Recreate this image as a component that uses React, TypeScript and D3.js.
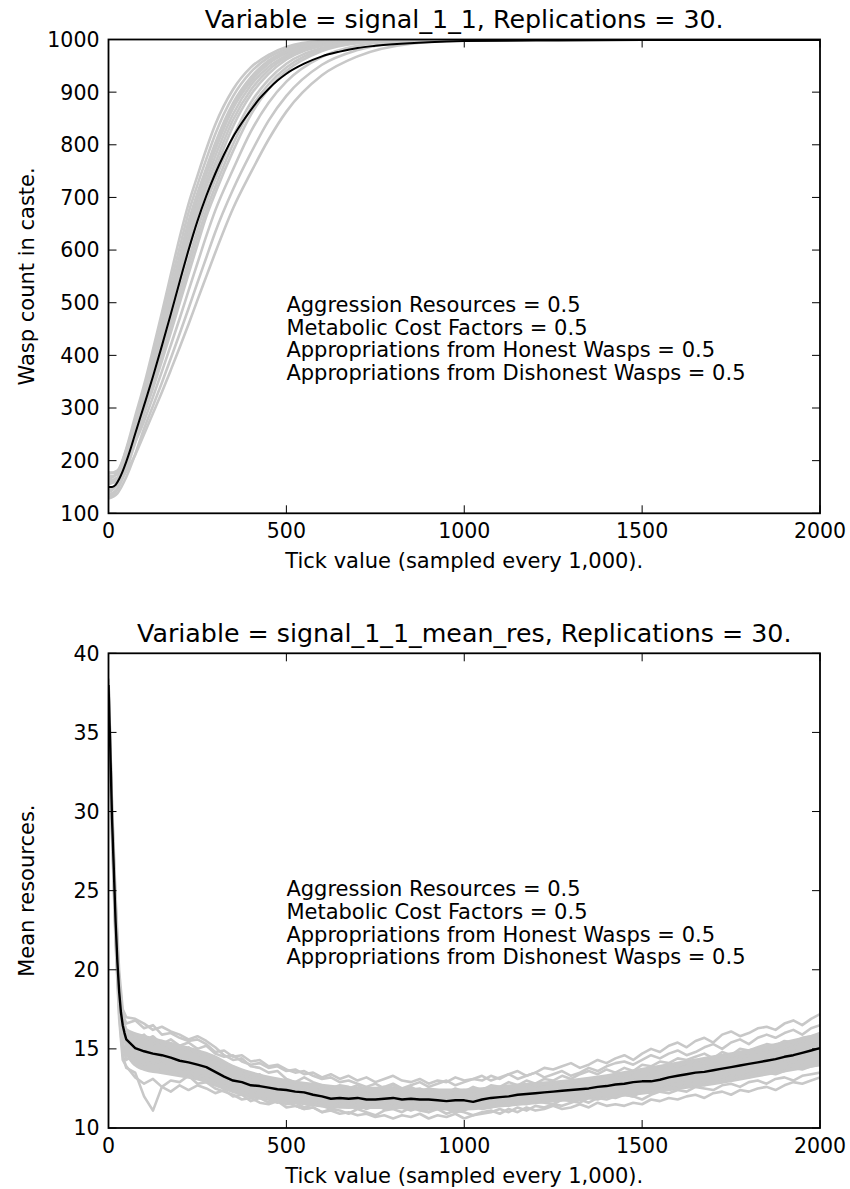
import React from 'react';
import * as d3 from 'd3';

const W = 850;
const H = 1189;
const FONT = "'DejaVu Sans', sans-serif";

// ---------------- Top panel data ----------------
const TOP_TITLE = 'Variable = signal_1_1, Replications = 30.';
const TOP_YLABEL = 'Wasp count in caste.';
const TOP_YTICKS = [100, 200, 300, 400, 500, 600, 700, 800, 900, 1000];
const TOP_RUN_TICKS = [0, 25, 50, 75, 100, 125, 150, 175, 200, 225, 250, 275, 300, 350, 400, 450, 500, 600, 700, 850, 1000, 1300, 2000];
const TOP_RUNS = [
  [165, 176, 223, 284, 344, 411, 481, 553, 624, 688, 741, 792, 838, 905, 947, 971, 986, 997, 999, 1000, 1000, 1000, 1000],
  [140, 156, 207, 271, 335, 399, 467, 537, 605, 671, 724, 773, 820, 892, 938, 966, 982, 996, 999, 1000, 1000, 1000, 1000],
  [175, 181, 221, 274, 327, 389, 454, 521, 588, 654, 708, 756, 803, 879, 928, 960, 978, 995, 998, 1000, 1000, 1000, 1000],
  [155, 165, 208, 264, 321, 381, 445, 510, 576, 640, 696, 744, 790, 869, 920, 954, 974, 993, 998, 1000, 1000, 1000, 1000],
  [130, 146, 193, 254, 316, 375, 436, 500, 564, 627, 684, 732, 778, 858, 913, 948, 970, 992, 998, 999, 1000, 1000, 1000],
  [160, 168, 206, 258, 311, 368, 427, 489, 552, 614, 672, 721, 765, 847, 904, 942, 966, 990, 997, 999, 1000, 1000, 1000],
  [145, 156, 196, 250, 305, 360, 418, 478, 540, 600, 660, 708, 752, 835, 895, 935, 962, 988, 997, 999, 1000, 1000, 1000],
  [170, 174, 205, 250, 298, 350, 406, 463, 523, 581, 639, 690, 734, 815, 880, 924, 954, 984, 996, 999, 1000, 1000, 1000],
  [135, 146, 183, 234, 288, 337, 389, 443, 499, 555, 610, 664, 708, 788, 857, 906, 940, 978, 993, 999, 1000, 1000, 1000],
  [178, 177, 199, 235, 275, 321, 369, 419, 470, 523, 575, 627, 675, 753, 825, 880, 920, 967, 988, 998, 999, 1000, 1000],
  [128, 138, 169, 212, 261, 304, 348, 394, 441, 489, 538, 586, 634, 715, 784, 846, 893, 952, 980, 996, 999, 1000, 1000],
  [158, 159, 180, 211, 250, 290, 330, 372, 415, 459, 505, 550, 595, 679, 747, 810, 863, 932, 968, 992, 998, 1000, 1000],
  [142, 156, 203, 264, 325, 386, 450, 517, 583, 649, 703, 752, 798, 875, 925, 957, 976, 994, 998, 1000, 1000, 1000, 1000],
  [162, 167, 199, 244, 292, 344, 397, 453, 510, 568, 624, 676, 720, 801, 869, 915, 947, 981, 995, 999, 1000, 1000, 1000],
];
const TOP_MEAN_TICKS = [0, 10, 20, 30, 40, 50, 60, 75, 100, 125, 150, 175, 200, 225, 250, 275, 300, 325, 350, 375, 400, 425, 450, 475, 500, 550, 600, 650, 700, 750, 800, 900, 1000, 1200, 1500, 2000];
const TOP_MEAN = [150, 150, 154, 165, 180, 198, 218, 251, 305, 360, 418, 478, 540, 600, 655, 703, 745, 782, 815, 842, 866, 888, 906, 922, 935, 954, 968, 977, 984, 988, 991, 995, 997, 998, 999, 999];

// ---------------- Bottom panel data ----------------
const BOT_TITLE = 'Variable = signal_1_1_mean_res, Replications = 30.';
const BOT_YLABEL = 'Mean resources.';
const BOT_YTICKS = [10, 15, 20, 25, 30, 35, 40];
const BOT_RUN_TICKS = [0, 10, 20, 30, 40, ...d3.range(50, 2001, 25)];
const BOT_RUNS = [
  [38.2, 30.4, 24.6, 19.9, 17.5,
    17.0, 16.9, 16.6, 16.2, 16.4, 16.1, 15.9, 15.6,
    15.8, 15.5, 15.1, 14.6, 14.3, 14.4, 13.9, 13.8,
    13.5, 13.6, 13.1, 12.9, 13.2, 12.9, 12.7, 12.5,
    12.7, 12.6, 12.4, 12.3, 12.5, 12.6, 12.3, 12.2,
    12.4, 12.5, 12.2, 12.0, 12.3, 12.2, 12.4, 12.1,
    12.3, 12.4, 12.5, 12.3, 12.6, 12.7, 12.5, 12.6,
    12.8, 12.7, 12.9, 13.0, 12.8, 13.1, 13.2, 13.0,
    13.3, 13.4, 13.2, 13.5, 13.6, 13.4, 13.8, 13.9,
    14.0, 13.9, 14.2, 14.3, 14.1, 14.4, 14.6, 14.5,
    14.8, 14.9, 15.1, 15.0, 15.3, 15.4, 15.6],
  [37.6, 28.6, 22.0, 17.2, 14.6,
    13.8, 13.5, 12.0, 11.1, 12.6, 13.0, 12.9, 13.3,
    12.8, 12.9, 12.5, 12.3, 12.1, 11.8, 11.9, 11.6,
    11.5, 11.7, 11.3, 11.4, 11.2, 11.3, 11.0, 11.2,
    11.1, 10.9, 11.2, 11.0, 10.8, 11.1, 11.2, 11.0,
    11.3, 11.1, 11.0, 11.3, 11.2, 11.0, 11.1, 11.4,
    11.2, 11.3, 11.5, 11.4, 11.6, 11.5, 11.7, 11.6,
    11.5, 11.8, 11.7, 11.6, 11.9, 11.8, 12.0, 11.9,
    12.1, 12.0, 11.8, 12.1, 12.3, 12.2, 12.4, 12.3,
    12.6, 12.5, 12.4, 12.7, 12.8, 12.6, 12.9, 13.0,
    12.8, 13.1, 13.2, 13.0, 13.3, 13.4, 13.5],
  [38.0, 29.2, 23.5, 18.8, 16.9,
    16.2, 15.6, 15.9, 15.3, 15.5, 15.0, 14.8, 15.1,
    14.6, 14.7, 14.2, 13.8, 13.9, 13.5, 13.2, 13.4,
    13.0, 12.8, 13.1, 12.7, 12.5, 12.8, 12.4, 12.6,
    12.3, 12.5, 12.7, 12.4, 12.2, 12.6, 12.8, 12.5,
    12.7, 12.9, 12.6, 12.8, 13.0, 12.7, 12.9, 13.1,
    13.0, 13.3, 13.1, 13.4, 13.6, 13.3, 13.5, 13.8,
    13.7, 13.9, 14.1, 13.8, 14.0, 14.3, 14.1, 14.4,
    14.6, 14.3, 14.7, 15.0, 14.8, 15.2, 15.4, 15.1,
    15.5, 15.7, 15.4, 15.9, 16.1, 15.8, 16.0, 16.3,
    16.4, 16.2, 16.6, 16.8, 16.5, 16.9, 17.2],
  [37.8, 29.5, 22.8, 18.5, 16.2,
    15.4, 15.3, 14.6, 14.9, 14.2, 14.6, 14.0, 14.3,
    13.8, 14.1, 13.6, 13.1, 13.3, 12.7, 12.9, 12.4,
    12.6, 12.3, 12.5, 12.1, 12.3, 11.9, 12.2, 11.8,
    12.0, 11.7, 11.9, 12.1, 11.6, 11.9, 12.0, 11.7,
    11.9, 11.6, 11.8, 11.5, 11.9, 11.7, 11.6, 11.9,
    11.7, 12.0, 11.8, 12.2, 12.0, 12.3, 12.1, 12.4,
    12.2, 12.5, 12.3, 12.6, 12.4, 12.8, 12.6, 12.9,
    12.7, 13.0, 13.2, 12.9, 13.3, 13.1, 13.5, 13.3,
    13.6, 13.4, 13.8, 13.6, 14.0, 13.8, 14.2, 14.0,
    14.3, 14.5, 14.3, 14.7, 14.6, 14.9, 15.0],
  [37.9, 29.0, 22.2, 17.6, 15.4,
    14.6, 14.2, 14.5, 13.9, 14.1, 13.6, 13.8, 13.4,
    13.5, 13.1, 12.8, 12.9, 12.4, 12.2, 12.3, 11.9,
    11.8, 11.6, 11.7, 11.4, 11.2, 11.3, 11.0, 11.1,
    10.9, 11.0, 10.8, 10.9, 10.7, 10.8, 10.6, 10.8,
    10.7, 10.9, 10.6, 10.8, 10.7, 10.9, 10.6, 10.8,
    10.9, 11.0, 11.2, 11.0, 11.3, 11.1, 11.4, 11.3,
    11.5, 11.4, 11.6, 11.8, 11.6, 11.9, 11.8, 12.0,
    12.1, 12.0, 12.3, 12.2, 12.4, 12.6, 12.5, 12.7,
    12.8, 12.7, 13.0, 12.9, 13.1, 13.3, 13.2, 13.4,
    13.5, 13.4, 13.6, 13.8, 13.7, 13.9, 14.0],
  [38.3, 30.0, 23.9, 19.0, 17.0,
    16.1, 15.7, 15.5, 15.8, 15.3, 15.6, 15.2, 15.4,
    15.0, 15.2, 14.7, 14.5, 14.6, 14.2, 14.0, 14.1,
    13.8, 13.9, 13.6, 13.7, 13.4, 13.5, 13.2, 13.4,
    13.1, 13.3, 13.0, 13.2, 12.9, 13.1, 13.3, 13.0,
    12.9, 13.1, 12.8, 13.0, 12.9, 13.2, 13.0, 13.1,
    13.3, 13.0, 13.2, 13.4, 13.1, 13.3, 13.5, 13.2,
    13.4, 13.6, 13.3, 13.5, 13.8, 13.6, 13.9, 14.1,
    14.2, 14.0, 14.3, 14.6, 14.4, 14.7, 14.9, 14.6,
    14.8, 15.1, 15.3, 15.0, 15.4, 15.6, 15.3, 15.7,
    15.9, 15.7, 16.0, 16.2, 15.9, 16.3, 16.5],
  [37.7, 29.3, 22.6, 18.0, 15.9,
    15.2, 14.7, 14.9, 14.4, 14.7, 14.3, 14.4, 14.0,
    14.2, 13.7, 13.8, 13.3, 13.0, 13.2, 12.8, 12.5,
    12.7, 12.3, 12.4, 12.1, 12.2, 11.9, 11.8, 12.0,
    11.7, 11.9, 11.6, 11.8, 11.5, 11.7, 11.9, 11.6,
    11.8, 11.5, 11.7, 11.4, 11.6, 11.5, 11.3, 11.6,
    11.5, 11.8, 11.6, 11.9, 11.7, 12.0, 11.8, 12.1,
    11.9, 12.2, 12.0, 12.3, 12.1, 12.4, 12.3, 12.5,
    12.4, 12.7, 12.5, 12.8, 12.6, 12.9, 13.0, 12.8,
    13.1, 13.0, 13.3, 13.2, 13.5, 13.4, 13.6, 13.8,
    13.7, 13.9, 14.0, 14.2, 14.1, 14.3, 14.5],
  [37.5, 28.9, 22.3, 17.6, 15.2,
    14.3, 14.6, 14.0, 14.2, 13.7, 13.9, 13.5, 13.6,
    13.2, 13.4, 13.0, 12.8, 12.9, 12.5, 12.6, 12.3,
    12.4, 12.1, 12.2, 11.9, 12.0, 11.7, 11.8, 11.6,
    11.7, 11.4, 11.6, 11.3, 11.5, 11.2, 11.4, 11.3,
    11.1, 11.3, 11.0, 11.2, 10.9, 11.1, 11.0, 10.8,
    11.0, 11.1, 10.9, 11.2, 11.0, 11.3, 11.1, 11.2,
    11.4, 11.2, 11.3, 11.5, 11.3, 11.6, 11.4, 11.5,
    11.4, 11.6, 11.5, 11.8, 11.7, 11.9, 11.8, 12.0,
    12.1, 11.9, 12.2, 12.3, 12.1, 12.4, 12.3, 12.5,
    12.6, 12.4, 12.7, 12.9, 12.8, 13.0, 13.2],
  [38.4, 30.2, 24.1, 19.4, 17.2,
    16.6, 16.8, 16.3, 16.5, 15.9, 16.0, 15.7, 15.5,
    15.6, 15.3, 14.8, 14.9, 14.5, 14.6, 14.2, 14.3,
    13.9, 14.0, 13.7, 13.5, 13.6, 13.3, 13.1, 13.2,
    12.9, 13.0, 12.8, 12.6, 12.8, 12.5, 12.7, 12.4,
    12.6, 12.3, 12.5, 12.4, 12.2, 12.5, 12.3, 12.6,
    12.4, 12.7, 12.6, 12.9, 12.7, 13.0, 12.8, 13.1,
    13.0, 13.3, 13.1, 13.4, 13.6, 13.4, 13.7, 13.5,
    13.8, 13.6, 14.0, 13.9, 14.2, 14.1, 14.4, 14.3,
    14.5, 14.7, 14.4, 14.8, 14.6, 15.0, 14.9, 15.1,
    15.3, 15.2, 15.5, 15.4, 15.7, 15.8, 16.0],
  [37.4, 28.4, 21.6, 16.9, 14.3,
    13.9, 13.2, 12.8, 13.1, 12.6, 12.3, 12.7, 12.4,
    12.7, 12.5, 12.2, 12.4, 12.0, 12.1, 11.7, 11.9,
    11.6, 11.8, 11.5, 11.6, 11.3, 11.5, 11.4, 11.2,
    11.4, 11.3, 11.5, 11.2, 11.4, 11.6, 11.3, 11.5,
    11.4, 11.6, 11.5, 11.3, 11.5, 11.7, 11.6, 11.8,
    11.9, 11.7, 12.0, 12.2, 12.1, 12.3, 12.5, 12.4,
    12.6, 12.8, 12.7, 12.9, 13.1, 13.0, 13.2, 13.4,
    13.3, 13.5, 13.7, 13.6, 13.8, 14.0, 13.9, 14.1,
    14.3, 14.2, 14.4, 14.6, 14.5, 14.7, 14.9, 14.8,
    15.0, 15.2, 15.1, 15.3, 15.5, 15.4, 15.7],
];
// dense core of the 30 overlapping replications (where the grey is solid)
const BOT_CORE_TICKS = [45, 60, 100, 150, 200, 250, 300, 350, 400, 500, 600, 700, 800, 900, 1000, 1100, 1200, 1300, 1400, 1500, 1600, 1700, 1800, 1900, 2000];
const BOT_CORE_LOW = [14.8, 14.2, 13.6, 13.4, 13.2, 13.0, 12.6, 12.2, 11.9, 11.6, 11.3, 11.2, 11.2, 11.1, 11.1, 11.3, 11.5, 11.7, 11.9, 12.1, 12.4, 12.7, 13.1, 13.5, 13.9];
const BOT_CORE_HIGH = [16.4, 16.2, 15.9, 15.6, 15.3, 15.0, 14.6, 14.0, 13.6, 13.1, 12.8, 12.6, 12.6, 12.5, 12.5, 12.7, 12.9, 13.1, 13.4, 13.8, 14.2, 14.6, 15.0, 15.5, 16.0];
const BOT_MEAN_TICKS = [0, 5, 10, 15, 20, 25, 30, 35, 40, 45, ...d3.range(50, 2001, 25)];
const BOT_MEAN = [38.0, 34.0, 29.5, 26.3, 23.0, 20.5, 18.6, 17.3, 16.5, 16.0,
  15.6, 15.05, 14.85, 14.7, 14.6, 14.45, 14.25, 14.15,
  14.0, 13.85, 13.55, 13.25, 13.0, 12.9, 12.7, 12.65,
  12.55, 12.45, 12.4, 12.3, 12.25, 12.1, 12.0, 11.85,
  11.9, 11.85, 11.9, 11.8, 11.8, 11.85, 11.9, 11.8,
  11.85, 11.8, 11.8, 11.75, 11.7, 11.75, 11.75, 11.65,
  11.8, 11.9, 11.95, 12.0, 12.1, 12.15, 12.2, 12.25,
  12.3, 12.35, 12.4, 12.45, 12.5, 12.6, 12.65, 12.75,
  12.8, 12.9, 12.95, 12.95, 13.05, 13.2, 13.3, 13.4,
  13.5, 13.55, 13.65, 13.75, 13.85, 13.95, 14.05, 14.15,
  14.25, 14.35, 14.5, 14.6, 14.75, 14.9, 15.05];

// ---------------- Shared ----------------
const X_TICKS = [0, 500, 1000, 1500, 2000];
const X_LABEL = 'Tick value (sampled every 1,000).';
const ANNOTATION = [
  'Aggression Resources = 0.5',
  'Metabolic Cost Factors = 0.5',
  'Appropriations from Honest Wasps = 0.5',
  'Appropriations from Dishonest Wasps = 0.5',
];

const LEFT = 108.5;
const RIGHT = 820;
const GRAY = '#c8c8c8';

type PanelProps = {
  id: string;
  top: number;
  bottom: number;
  title: string;
  yLabel: string;
  yDomain: [number, number];
  yTicks: number[];
  runTicks: number[];
  runs: number[][];
  meanTicks: number[];
  mean: number[];
  meanWidth: number;
  annotY: number;
  jagged: boolean;
  core?: { ticks: number[]; low: number[]; high: number[] };
};

function Panel(p: PanelProps) {
  const x = d3.scaleLinear().domain([0, 2000]).range([LEFT, RIGHT]);
  const y = d3.scaleLinear().domain(p.yDomain).range([p.bottom, p.top]);
  const curve = p.jagged ? d3.curveLinear : d3.curveMonotoneX;
  const line = d3
    .line<[number, number]>()
    .x((d) => x(d[0]))
    .y((d) => y(d[1]))
    .curve(curve);
  const area = d3
    .area<number>()
    .x((_, i) => x(p.core!.ticks[i]))
    .y0((_, i) => y(p.core!.low[i]))
    .y1((_, i) => y(p.core!.high[i]))
    .curve(d3.curveMonotoneX);
  const tickLen = 8;
  const midY = (p.top + p.bottom) / 2;
  const midX = (LEFT + RIGHT) / 2;
  return (
    <g>
      <defs>
        <clipPath id={`clip-${p.id}`}>
          <rect x={LEFT} y={p.top} width={RIGHT - LEFT} height={p.bottom - p.top} />
        </clipPath>
      </defs>
      <g clipPath={`url(#clip-${p.id})`}>
        {p.core && <path d={area(p.core.low) || ''} fill={GRAY} stroke="none" />}
        {p.runs.map((r, i) => (
          <path
            key={i}
            d={line(r.map((v, j) => [p.runTicks[j], v] as [number, number])) || ''}
            fill="none"
            stroke={GRAY}
            strokeWidth={2.6}
            strokeLinejoin="round"
          />
        ))}
        <path
          d={line(p.mean.map((v, j) => [p.meanTicks[j], v] as [number, number])) || ''}
          fill="none"
          stroke="#000"
          strokeWidth={p.meanWidth}
          strokeLinejoin="round"
        />
      </g>
      {X_TICKS.map((t) => (
        <g key={`xt${t}`}>
          <line x1={x(t)} x2={x(t)} y1={p.bottom} y2={p.bottom - tickLen} stroke="#000" strokeWidth={1} />
          <line x1={x(t)} x2={x(t)} y1={p.top} y2={p.top + tickLen} stroke="#000" strokeWidth={1} />
          <text x={x(t)} y={p.bottom + 25} textAnchor="middle" fontSize={20.5} fontFamily={FONT}>
            {t}
          </text>
        </g>
      ))}
      {p.yTicks.map((t) => (
        <g key={`yt${t}`}>
          <line x1={LEFT} x2={LEFT + tickLen} y1={y(t)} y2={y(t)} stroke="#000" strokeWidth={1} />
          <line x1={RIGHT} x2={RIGHT - tickLen} y1={y(t)} y2={y(t)} stroke="#000" strokeWidth={1} />
          <text x={LEFT - 9} y={y(t)} dy="0.36em" textAnchor="end" fontSize={20.5} fontFamily={FONT}>
            {t}
          </text>
        </g>
      ))}
      <rect
        x={LEFT}
        y={p.top}
        width={RIGHT - LEFT}
        height={p.bottom - p.top}
        fill="none"
        stroke="#000"
        strokeWidth={1.8}
      />
      <text x={midX} y={p.top - 11.5} textAnchor="middle" fontSize={25.3} fontFamily={FONT}>
        {p.title}
      </text>
      <text x={midX} y={p.bottom + 55} textAnchor="middle" fontSize={21} fontFamily={FONT}>
        {X_LABEL}
      </text>
      <text
        transform={`translate(33.5, ${midY}) rotate(-90)`}
        textAnchor="middle"
        fontSize={21}
        fontFamily={FONT}
      >
        {p.yLabel}
      </text>
      <text fontSize={21} fontFamily={FONT}>
        {ANNOTATION.map((s, i) => (
          <tspan key={i} x={x(500)} y={p.annotY + i * 22.8}>
            {s}
          </tspan>
        ))}
      </text>
    </g>
  );
}

export default function App() {
  return (
    <svg
      width={W}
      height={H}
      viewBox={`0 0 ${W} ${H}`}
      style={{ position: 'absolute', left: 0, top: 0, background: '#fff' }}
    >
      <rect x={0} y={0} width={W} height={H} fill="#fff" />
      <Panel
        id="top"
        top={39.5}
        bottom={513.3}
        title={TOP_TITLE}
        yLabel={TOP_YLABEL}
        yDomain={[100, 1000]}
        yTicks={TOP_YTICKS}
        runTicks={TOP_RUN_TICKS}
        runs={TOP_RUNS}
        meanTicks={TOP_MEAN_TICKS}
        mean={TOP_MEAN}
        meanWidth={2}
        annotY={311.7}
        jagged={false}
      />
      <Panel
        id="bot"
        top={653.3}
        bottom={1128}
        title={BOT_TITLE}
        yLabel={BOT_YLABEL}
        yDomain={[10, 40]}
        yTicks={BOT_YTICKS}
        runTicks={BOT_RUN_TICKS}
        runs={BOT_RUNS}
        meanTicks={BOT_MEAN_TICKS}
        mean={BOT_MEAN}
        meanWidth={2.4}
        annotY={896}
        jagged={true}
        core={{ ticks: BOT_CORE_TICKS, low: BOT_CORE_LOW, high: BOT_CORE_HIGH }}
      />
    </svg>
  );
}
